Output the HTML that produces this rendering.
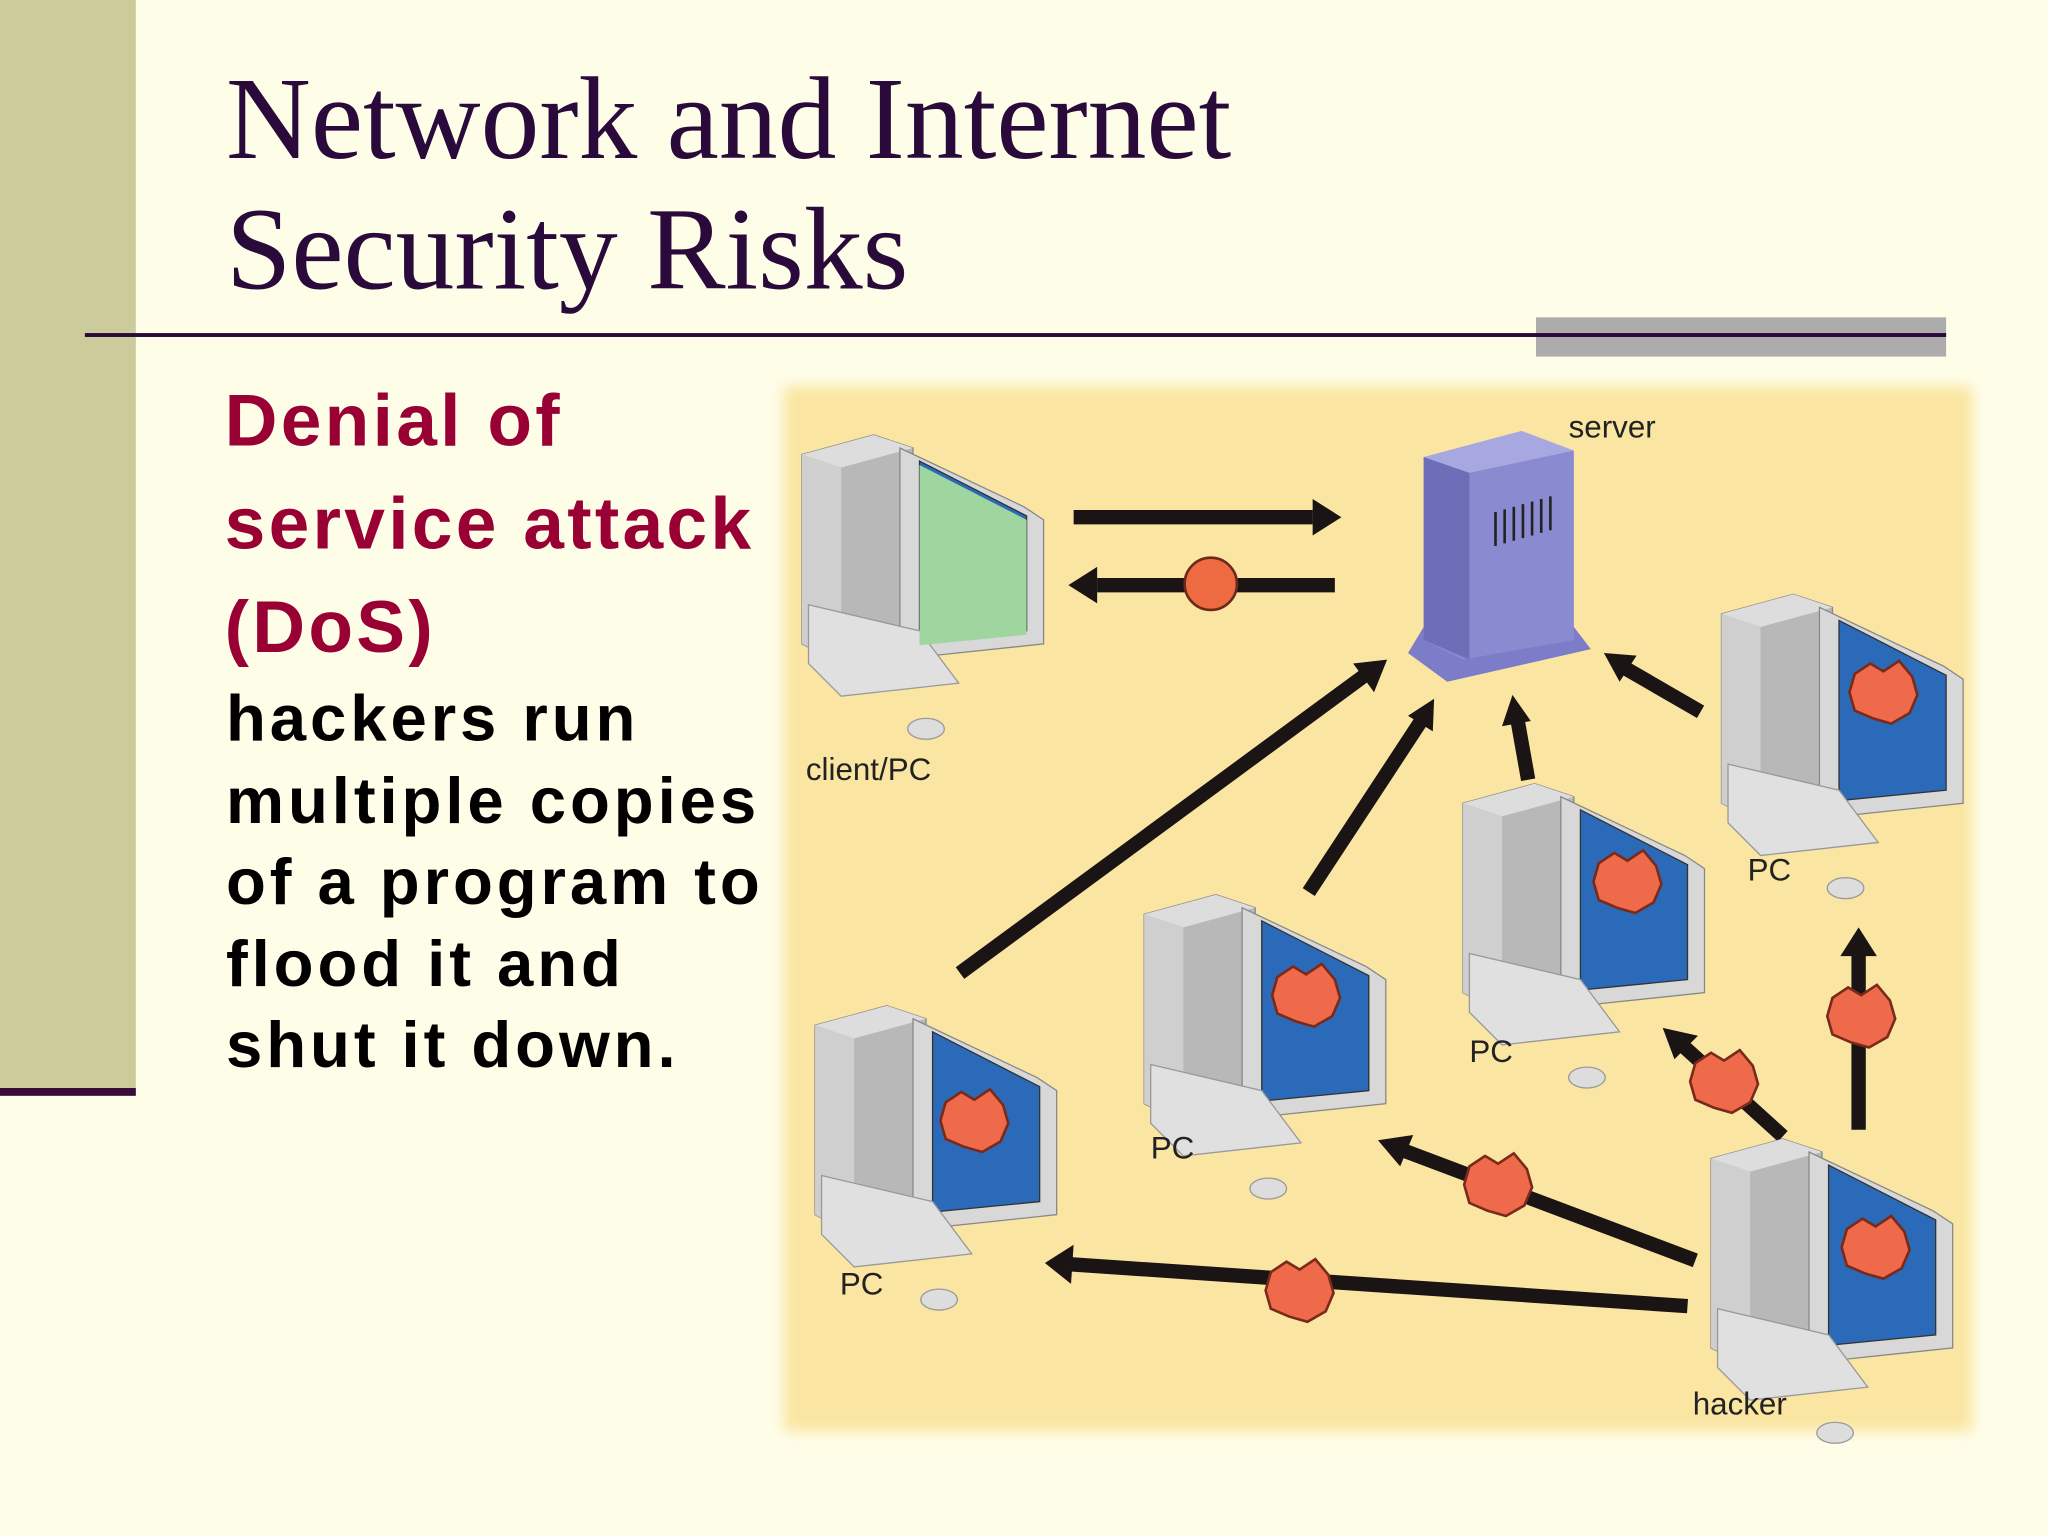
<!DOCTYPE html>
<html><head><meta charset="utf-8"><style>
html,body{margin:0;padding:0;width:2048px;height:1536px;overflow:hidden;background:#fefde8}
#w{position:absolute;left:0;top:0;width:1568px;height:1176px;transform:scale(1.306122);transform-origin:0 0;background:#fefde8}
.t{position:absolute;font-family:"Liberation Serif",serif;color:#2a0a3a;font-size:90px;line-height:100px;left:173px;top:42px;white-space:nowrap}
.d{position:absolute;left:172px;top:282px;font-family:"Liberation Sans",sans-serif;font-weight:bold;color:#990033;font-size:56px;line-height:79px;letter-spacing:2.5px;white-space:nowrap}
.b{position:absolute;left:173px;top:519px;font-family:"Liberation Sans",sans-serif;font-weight:bold;color:#000;font-size:50px;line-height:62.5px;letter-spacing:3px;white-space:nowrap}
</style></head><body><div id="w">
<div style="position:absolute;left:0;top:0;width:104px;height:833px;background:#cccb9c"></div>
<div style="position:absolute;left:0;top:833px;width:104px;height:6px;background:#3a0a3a"></div>
<div style="position:absolute;left:1176px;top:243px;width:314px;height:30px;background:#acacac"></div>
<div style="position:absolute;left:65px;top:255px;width:1425px;height:3px;background:#2a0a3a"></div>
<div class="t">Network and Internet<br>Security Risks</div>
<div class="d">Denial of<br>service attack<br>(DoS)</div>
<div class="b">hackers run<br>multiple copies<br>of a program to<br>flood it and<br>shut it down.</div>
<svg style="position:absolute;left:0;top:0" width="1568" height="1176" viewBox="0 0 1568 1176">
<defs>
<filter id="bl"><feGaussianBlur stdDeviation="5"/></filter>
<g id="pc">
<path d="M0,15 L55,0 L85,10 L85,160 L30,175 L0,160Z" fill="#b8b8b8" stroke="#888"/>
<path d="M0,15 L55,0 L85,10 L30,25Z" fill="#ddd"/>
<path d="M0,15 L30,25 L30,175 L0,160Z" fill="#cfcfcf"/>
<path d="M75,10 L170,55 L185,65 L185,160 L90,170 L75,150Z" fill="#d8d8d8" stroke="#888"/>
<path d="M90,20 L172,62 L172,150 L90,158Z" fill="#2a6ab8" stroke="#333"/>
<path d="M5,130 L90,150 L120,190 L30,200 L5,175Z" fill="#e0e0e0" stroke="#999"/>
<ellipse cx="95" cy="225" rx="14" ry="8" fill="#ddd" stroke="#999"/>
</g>
<g id="ex"><path d="M-22,-14 L-10,-22 L0,-16 L12,-24 L22,-12 L26,2 L20,16 L6,24 L-8,20 L-22,14 L-26,0Z" fill="#ef6a4a" stroke="#7a2a1a" stroke-width="2"/></g>
</defs>
<rect x="600" y="296" width="910" height="800" fill="#fae6a2" filter="url(#bl)"/>
<g fill="#1a1414" stroke="none">
<g stroke="#1a1414" stroke-width="11" fill="none">
<line x1="822" y1="396" x2="1005" y2="396"/><line x1="1022" y1="448" x2="840" y2="448"/>
<line x1="735" y1="745" x2="1045" y2="517"/><line x1="1002" y1="683" x2="1088" y2="552"/>
<line x1="1170" y1="597" x2="1162" y2="552"/><line x1="1302" y1="545" x2="1245" y2="512"/>
<line x1="1423" y1="865" x2="1423" y2="730"/><line x1="1365" y1="870" x2="1290" y2="802"/>
<line x1="1298" y1="965" x2="1075" y2="881"/><line x1="1292" y1="1000" x2="820" y2="968"/>
</g>
<polygon points="1027,396 1005,382 1005,410"/><polygon points="818,448 840,434 840,462"/>
<polygon points="1062,505 1036,508 1052,530"/><polygon points="1098,535 1078,548 1097,560"/>
<polygon points="1158,532 1150,556 1172,552"/><polygon points="1228,500 1240,522 1253,502"/>
<polygon points="1423,710 1409,732 1437,732"/><polygon points="1273,787 1282,811 1300,793"/>
<polygon points="1055,873 1072,893 1082,869"/><polygon points="800,967 822,953 820,983"/>
</g>
<circle cx="927" cy="447" r="20" fill="#ee6a40" stroke="#6a2a1a" stroke-width="2"/>
<g>
<path d="M1078,500 L1090,480 L1205,480 L1218,497 L1108,522Z" fill="#7c7cc8"/>
<path d="M1090,350 L1165,330 L1205,345 L1205,490 L1120,505 L1090,490Z" fill="#8a8ad0"/>
<path d="M1090,350 L1165,330 L1205,345 L1125,362Z" fill="#a8a8e0"/>
<path d="M1090,350 L1125,362 L1125,505 L1090,490Z" fill="#6e6eb8"/>
<g stroke="#222" stroke-width="2"><line x1="1145" y1="392" x2="1145" y2="418"/><line x1="1152" y1="390" x2="1152" y2="416"/><line x1="1159" y1="388" x2="1159" y2="414"/><line x1="1166" y1="386" x2="1166" y2="412"/><line x1="1173" y1="384" x2="1173" y2="410"/><line x1="1180" y1="382" x2="1180" y2="408"/><line x1="1187" y1="380" x2="1187" y2="406"/></g>
</g>
<use href="#pc" x="614" y="333"/>
<path d="M704,356 L786,398 L786,486 L704,494Z" fill="#9fd6a0"/>
<use href="#pc" x="624" y="770"/>
<use href="#pc" x="876" y="685"/>
<use href="#pc" x="1120" y="600"/>
<use href="#pc" x="1318" y="455"/>
<use href="#pc" x="1310" y="872"/>
<use href="#ex" x="746" y="858"/><use href="#ex" x="1000" y="762"/><use href="#ex" x="1246" y="675"/><use href="#ex" x="1442" y="530"/><use href="#ex" x="1436" y="955"/>
<use href="#ex" x="1425" y="778"/><use href="#ex" x="1320" y="828"/><use href="#ex" x="1147" y="907"/><use href="#ex" x="995" y="988"/>
<g font-family="Liberation Sans Narrow,Liberation Sans,sans-serif" font-size="24" fill="#222">
<text x="1201" y="335">server</text><text x="617" y="597">client/PC</text><text x="1338" y="674">PC</text>
<text x="1125" y="813">PC</text><text x="881" y="887">PC</text><text x="643" y="991">PC</text><text x="1296" y="1083">hacker</text>
</g>
</svg>
</div></body></html>
